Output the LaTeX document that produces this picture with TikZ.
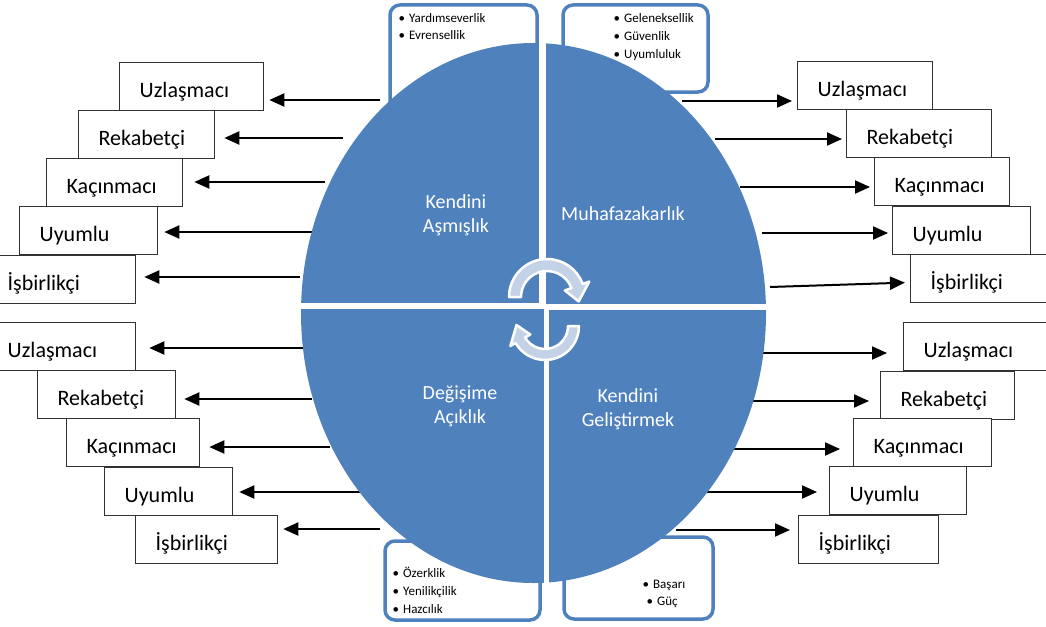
\documentclass[tikz,border=0pt]{standalone}
\usepackage{fontspec}
\setmainfont{Carlito}
\usetikzlibrary{arrows.meta}

\definecolor{quadblue}{RGB}{79,129,189}
\definecolor{frameblue}{RGB}{79,129,189}
\definecolor{cyclefill}{RGB}{196,210,232}
\definecolor{boxline}{RGB}{50,50,50}

\tikzset{
  stylebox/.style={draw=boxline, line width=1.3pt, fill=white, anchor=north west,
    minimum height=48pt, inner xsep=20pt, inner ysep=0pt, align=left,
    text height=22pt, text depth=0pt, font=\fontsize{22}{26}\selectfont},
  frame/.style={draw=frameblue, line width=3.5pt, rounded corners=10pt, fill=white},
  arr/.style={draw=black, line width=2pt, -{Triangle[length=15pt,width=13pt]}},
  quadlabel/.style={text=white, align=center, font=\fontsize{20}{24}\selectfont},
  bullet/.style={anchor=base west, inner sep=0pt, font=\fontsize{13}{16}\selectfont},
  cyc/.style={fill=cyclefill, draw=white, line width=2.5pt, line join=round},
}

\begin{document}
\begin{tikzpicture}[x=1pt,y=-1pt]
\useasboundingbox (0,0) rectangle (1046,626);
\clip (0,0) rectangle (1046,626);

% value frames at the top and bottom of the oval
\draw[frame] (390,5) rectangle (537,120);
\draw[frame] (563,5) rectangle (708,92);
\draw[frame] (385,541) rectangle (540,620);
\draw[frame] (564,537) rectangle (713,619);

% conflict style boxes, upper left
\node[stylebox, text width=104pt] (L1) at (119,62)  {Uzlaşmacı};
\node[stylebox, text width=96pt]  (L2) at (78,110)  {Rekabetçi};
\node[stylebox, text width=96pt]  (L3) at (46,158)  {Kaçınmacı};
\node[stylebox, text width=98pt]  (L4) at (19,206)  {Uyumlu};
\node[stylebox, text width=108pt] (L5) at (-13,255) {İşbirlikçi};

% upper right
\node[stylebox, text width=95pt]  (R1) at (797,61)  {Uzlaşmacı};
\node[stylebox, text width=105pt] (R2) at (846,109) {Rekabetçi};
\node[stylebox, text width=95pt]  (R3) at (874,157) {Kaçınmacı};
\node[stylebox, text width=98pt]  (R4) at (892,206) {Uyumlu};
\node[stylebox, text width=110pt] (R5) at (910,254) {İşbirlikçi};

% lower left
\node[stylebox, text width=108pt] (M1) at (-13,322) {Uzlaşmacı};
\node[stylebox, text width=98pt]  (M2) at (37,370)  {Rekabetçi};
\node[stylebox, text width=93pt]  (M3) at (66,418)  {Kaçınmacı};
\node[stylebox, text width=88pt]  (M4) at (104,467) {Uyumlu};
\node[stylebox, text width=102pt] (M5) at (135,515) {İşbirlikçi};

% lower right
\node[stylebox, text width=110pt] (N1) at (903,322) {Uzlaşmacı};
\node[stylebox, text width=94pt]  (N2) at (880,371) {Rekabetçi};
\node[stylebox, text width=98pt]  (N3) at (853,418) {Kaçınmacı};
\node[stylebox, text width=97pt]  (N4) at (829,466) {Uyumlu};
\node[stylebox, text width=100pt] (N5) at (798,515) {İşbirlikçi};

% arrow tails on the rim of the oval
\coordinate (tl1) at (380,100);
\coordinate (tl2) at (343,138);
\coordinate (tl3) at (325,182);
\coordinate (tl4) at (313,232);
\coordinate (tl5) at (300,277);
\coordinate (tr1) at (682,101);
\coordinate (tr2) at (715,139);
\coordinate (tr3) at (740,187);
\coordinate (tr4) at (762,233);
\coordinate (tr5) at (770,287);
\coordinate (bl1) at (303,348);
\coordinate (bl2) at (312,399);
\coordinate (bl3) at (330,447);
\coordinate (bl4) at (362,492);
\coordinate (bl5) at (380,529);
\coordinate (br1) at (758,353);
\coordinate (br2) at (749,401);
\coordinate (br3) at (729,449);
\coordinate (br4) at (707,492);
\coordinate (br5) at (676,530);

\draw[arr, shorten >=5pt]  (tl1) -- (tl1 -| L1.east);
\draw[arr, shorten >=9pt]  (tl2) -- (tl2 -| L2.east);
\draw[arr, shorten >=11pt] (tl3) -- (tl3 -| L3.east);
\draw[arr, shorten >=6pt]  (tl4) -- (tl4 -| L4.east);
\draw[arr, shorten >=8pt]  (tl5) -- (tl5 -| L5.east);

\draw[arr, shorten >=5pt]  (tr1) -- (tr1 -| R1.west);
\draw[arr, shorten >=4pt]  (tr2) -- (tr2 -| R2.west);
\draw[arr, shorten >=4pt]  (tr3) -- (tr3 -| R3.west);
\draw[arr, shorten >=4pt]  (tr4) -- (tr4 -| R4.west);
\draw[arr] (tr5) -- ([xshift=-5pt,yshift=-4pt]R5.west);

\draw[arr, shorten >=13pt] (bl1) -- (bl1 -| M1.east);
\draw[arr, shorten >=8pt]  (bl2) -- (bl2 -| M2.east);
\draw[arr, shorten >=9pt]  (bl3) -- (bl3 -| M3.east);
\draw[arr, shorten >=6pt]  (bl4) -- (bl4 -| M4.east);
\draw[arr, shorten >=5pt]  (bl5) -- (bl5 -| M5.east);

\draw[arr, shorten >=16pt] (br1) -- (br1 -| N1.west);
\draw[arr, shorten >=11pt] (br2) -- (br2 -| N2.west);
\draw[arr, shorten >=13pt] (br3) -- (br3 -| N3.west);
\draw[arr, shorten >=12pt] (br4) -- (br4 -| N4.west);
\draw[arr, shorten >=8pt]  (br5) -- (br5 -| N5.west);

% the oval split into four value quadrants
\fill[quadblue] (533.5,313) ellipse [x radius=232.5, y radius=270];
\draw[white, line width=7pt] (542.5,30) -- (542.5,306);
\draw[white, line width=5pt] (546.5,306) -- (546.5,600);
\draw[white, line width=6pt] (290,306) -- (545,306);
\draw[white, line width=6pt] (545,307) -- (780,307);

\node[quadlabel] (q1) at (456,215) {Kendini\\Aşmışlık};
\node[quadlabel] (q2) at (623,214) {Muhafazakarlık};
\node[quadlabel] (q3) at (460,406) {Değişime\\Açıklık};
\node[quadlabel] (q4) at (628,409) {Kendini\\Geliştirmek};

% circular arrows in the middle
\begin{scope}[shift={(547,297)}]
\draw[cyc] (180:38) arc[start angle=180, end angle=340, radius=38]
  -- (340:45) -- (8:32) -- (340:19) -- (340:26)
  arc[start angle=340, end angle=180, radius=26] -- cycle;
\end{scope}
\begin{scope}[shift={(545,326)}]
\draw[cyc] (0:34) arc[start angle=0, end angle=150, radius=34]
  -- (150:40) -- (182:28.5) -- (150:17) -- (150:23)
  arc[start angle=150, end angle=0, radius=23] -- cycle;
\end{scope}

% value lists
\node[bullet] (v1) at (398.5,23) {•\hspace{4pt}Yardımseverlik};
\node[bullet] (v2) at (398.5,40) {•\hspace{4pt}Evrensellik};
\node[bullet] (v3) at (613.5,23) {•\hspace{4pt}Geleneksellik};
\node[bullet] (v4) at (613.5,41) {•\hspace{4pt}Güvenlik};
\node[bullet] (v5) at (613.5,59) {•\hspace{4pt}Uyumluluk};
\node[bullet] (v6) at (392.5,577) {•\hspace{4pt}Özerklik};
\node[bullet] (v7) at (392.5,595) {•\hspace{4pt}Yenilikçilik};
\node[bullet] (v8) at (392.5,613) {•\hspace{4pt}Hazcılık};
\node[bullet] (v9) at (642.5,588) {•\hspace{4pt}Başarı};
\node[bullet] (v10) at (646.5,605) {•\hspace{4pt}Güç};
\end{tikzpicture}
\end{document}
